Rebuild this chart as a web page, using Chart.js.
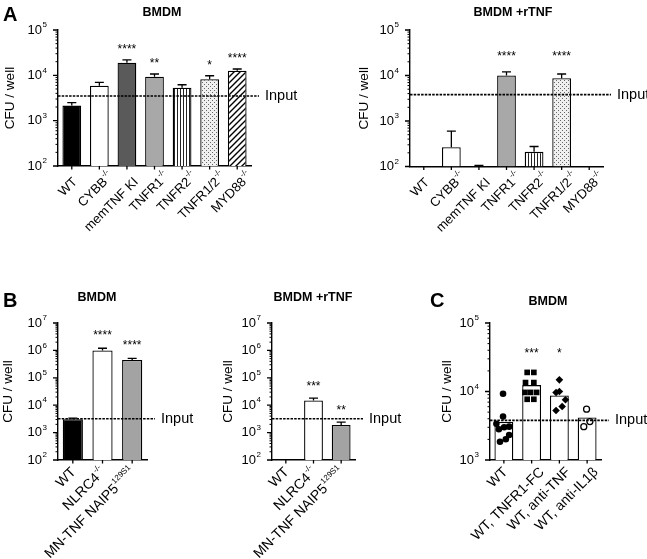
<!DOCTYPE html>
<html>
<head>
<meta charset="utf-8">
<script src="https://cdn.jsdelivr.net/npm/chart.js@4"></script>
<style>
  body { margin: 0; background: #fff; }
  #wrap { position: relative; width: 647px; height: 559px; font-family: "Liberation Sans", Arial, sans-serif; color: #000; }
  canvas { position: absolute; left: 0; top: 0; }
  .ttl { position: absolute; font-weight: bold; font-size: 12.5px; line-height: 14px; transform: translateX(-50%); white-space: nowrap; }
  .let { position: absolute; font-weight: bold; font-size: 20px; line-height: 20px; }
</style>
</head>
<body>
<div id="wrap">
  <canvas id="aLeft" width="647" height="559"></canvas>
  <canvas id="aRight" width="647" height="559"></canvas>
  <canvas id="bLeft" width="647" height="559"></canvas>
  <canvas id="bMid" width="647" height="559"></canvas>
  <canvas id="cPanel" width="647" height="559"></canvas>
  <div class="let" style="left:3px;top:4px">A</div>
  <div class="ttl" style="left:162px;top:5px">BMDM</div>
  <div class="ttl" style="left:513px;top:5px">BMDM +rTNF</div>
  <div class="let" style="left:3px;top:290px">B</div>
  <div class="ttl" style="left:97px;top:290px">BMDM</div>
  <div class="ttl" style="left:313px;top:290px">BMDM +rTNF</div>
  <div class="let" style="left:430px;top:290px">C</div>
  <div class="ttl" style="left:548px;top:294px">BMDM</div>
</div>
<script>
const W = 647, H = 559;
const FONT = '"Liberation Sans", Arial, sans-serif';

// Panel A: CFU per well
const aGroups = ['WT', 'CYBB', 'memTNF KI', 'TNFR1', 'TNFR2', 'TNFR1/2', 'MYD88'];
const aSups = ['', '-/-', '', '-/-', '-/-', '-/-', '-/-'];
const aBmdm = [2150, 5900, 19000, 9300, 5350, 8200, 12600];
const aBmdmErr = [2500, 7000, 22000, 10700, 6200, 9800, 13800];
const aBmdmStars = ['', '', '****', '**', '', '*', '****'];
const aRtnf = [null, 265, 103, 10000, 210, 8700, null];
const aRtnfErr = [null, 600, 106, 12000, 275, 10800, null];
const aRtnfStars = ['', '', '', '****', '', '****', ''];
const aInput = [3500, 3800];

// Panel B
const bGroups = ['WT', 'NLRC4', 'MN-TNF NAIP5'];
const bSups = ['', '-/-', '129S1'];
const bBmdm = [3100, 1000000, 450000];
const bBmdmErr = [3400, 1200000, 510000];
const bBmdmStars = ['', '****', '****'];
const bRtnf = [null, 15000, 1900];
const bRtnfErr = [null, 18000, 2400];
const bRtnfStars = ['', '***', '**'];
const bInput = [3200, 3200];

// Panel C: bar = mean, points = single wells
const cGroups = ['WT', 'WT, TNFR1-FC', 'WT, anti-TNF', 'WT, anti-IL1β'];
const cSups = ['', '', '', ''];
const cMeans = [3600, 12400, 8750, 4170];
const cWt = [9250, 4300, 3370, 3070, 3010, 2810, 2320, 2010, 1850];
const cTnfr1Fc = [19000, 19000, 13500, 13500, 9700, 9700, 9700, 7700, 7700];
const cAntiTnf = [14800, 10000, 9670, 7560, 6030, 5270];
const cAntiIl1b = [5520, 3640, 3070];
const cStars = ['', '***', '*', ''];
const cInput = 3800;

// horizontal scatter of the points inside each bar (category units)
const jitWt = [-0.03, -0.03, -0.27, 0.19, 0.01, -0.18, 0.19, 0.07, -0.14];
const jitFc = [-0.16, 0.08, -0.22, 0.08, -0.24, -0.04, 0.18, -0.16, 0.08];
const jitAnti = [0, 0, -0.12, 0.22, 0.1, -0.12];
const jitIl = [-0.02, 0.1, -0.12];

function makePattern(w, h, paint) {
  const c = document.createElement('canvas');
  c.width = w; c.height = h;
  const g = c.getContext('2d');
  paint(g);
  return g.createPattern(c, 'repeat');
}
const stripes = makePattern(3, 3, g => {
  g.fillStyle = '#fff'; g.fillRect(0, 0, 3, 3);
  g.fillStyle = '#222'; g.fillRect(0, 0, 1, 3);
});
const dots = makePattern(4, 4, g => {
  g.fillStyle = '#f0f0f0'; g.fillRect(0, 0, 4, 4);
  g.fillStyle = '#666'; g.fillRect(0, 0, 1, 1); g.fillRect(2, 2, 1, 1);
});
const hatch = makePattern(6, 6, g => {
  g.fillStyle = '#fff'; g.fillRect(0, 0, 6, 6);
  g.strokeStyle = '#000'; g.lineWidth = 1.4;
  g.beginPath();
  g.moveTo(-1, 7); g.lineTo(7, -1);
  g.moveTo(-1, 1); g.lineTo(1, -1);
  g.moveTo(5, 7); g.lineTo(7, 5);
  g.stroke();
});
const aFills = ['#000', '#fff', '#5a5a5a', '#a8a8a8', stripes, dots, hatch];
const bFills = ['#000', '#fff', '#a3a3a3'];

function textWidths(ctx, base, sup, size, supSize) {
  ctx.font = size + 'px ' + FONT;
  const wb = ctx.measureText(base).width;
  ctx.font = supSize + 'px ' + FONT;
  const ws = sup ? ctx.measureText(sup).width + 0.5 : 0;
  return [wb, ws];
}

// base text + raised superscript; 'right' anchors the end of the base, 'rightAll' the end of the superscript
function supText(ctx, x, y, base, sup, align, size, supSize) {
  ctx.textBaseline = 'middle';
  ctx.textAlign = 'left';
  const [wb, ws] = textWidths(ctx, base, sup, size, supSize);
  let x0 = x;
  if (align === 'right') x0 = x - wb;
  if (align === 'rightAll') x0 = x - wb - ws;
  ctx.font = size + 'px ' + FONT;
  ctx.fillText(base, x0, y);
  if (sup) {
    ctx.font = supSize + 'px ' + FONT;
    ctx.fillText(sup, x0 + wb + 0.5, y - size * 0.38);
  }
}

function decor(p) {
  return {
    id: 'decor',
    afterDatasetsDraw(chart) {
      const ctx = chart.ctx, a = chart.chartArea, x = chart.scales.x, y = chart.scales.y;
      ctx.save();
      ctx.strokeStyle = '#000';
      ctx.fillStyle = '#000';
      ctx.lineWidth = 1.3;
      // upper error bars
      (p.errs || []).forEach((e, i) => {
        if (e == null || p.values[i] == null) return;
        const cx = x.getPixelForValue(i);
        const t = y.getPixelForValue(e), b = y.getPixelForValue(p.values[i]);
        ctx.beginPath();
        ctx.moveTo(cx, b); ctx.lineTo(cx, t);
        ctx.moveTo(cx - 4.5, t); ctx.lineTo(cx + 4.5, t);
        ctx.stroke();
      });
      // input line
      const iy = y.getPixelForValue(p.input);
      ctx.setLineDash([2.5, 1.2]);
      ctx.lineWidth = 1.7;
      ctx.beginPath();
      ctx.moveTo(a.left, iy); ctx.lineTo(a.right + 8, iy);
      ctx.stroke();
      ctx.setLineDash([]);
      ctx.font = '14.5px ' + FONT;
      ctx.textAlign = 'left';
      ctx.textBaseline = 'middle';
      ctx.fillText('Input', a.right + 14, iy);
      // significance
      ctx.font = '12px ' + FONT;
      ctx.textAlign = 'center';
      ctx.textBaseline = 'alphabetic';
      p.stars.forEach((s, i) => {
        if (!s) return;
        let sy;
        if (p.starAt) sy = y.getPixelForValue(p.starAt) + 7;
        else sy = y.getPixelForValue(p.errs[i]) - p.starGap + 7;
        ctx.fillText(s, x.getPixelForValue(i), sy);
      });
      ctx.restore();
    },
    afterDraw(chart) {
      const ctx = chart.ctx, a = chart.chartArea, x = chart.scales.x, y = chart.scales.y;
      ctx.save();
      ctx.strokeStyle = '#000';
      ctx.fillStyle = '#000';
      const e0 = Math.round(Math.log10(p.min)), e1 = Math.round(Math.log10(p.max));
      ctx.lineWidth = 1.3;
      ctx.beginPath();
      for (let e = e0; e <= e1; e++) {
        const py = y.getPixelForValue(Math.pow(10, e));
        ctx.moveTo(a.left, py); ctx.lineTo(a.left - 5, py);
      }
      p.labels.forEach((l, i) => {
        const cx = x.getPixelForValue(i);
        ctx.moveTo(cx, a.bottom); ctx.lineTo(cx, a.bottom + 3.5);
      });
      ctx.stroke();
      ctx.lineWidth = 1;
      ctx.beginPath();
      for (let e = e0; e < e1; e++) {
        for (let k = 2; k < 10; k++) {
          const my = y.getPixelForValue(k * Math.pow(10, e));
          ctx.moveTo(a.left, my); ctx.lineTo(a.left - 2.5, my);
        }
      }
      ctx.stroke();
      for (let e = e0; e <= e1; e++) {
        supText(ctx, a.left - 11, y.getPixelForValue(Math.pow(10, e)), '10', String(e), 'rightAll', 13, 8);
      }
      // category labels, rotated 45 degrees
      const L = p.lab;
      p.labels.forEach((l, i) => {
        const [wb, ws] = textWidths(ctx, l, p.sups[i], L.size, 8);
        ctx.save();
        ctx.translate(x.getPixelForValue(i) + L.dx + L.k * (wb + ws), a.bottom + L.dy);
        ctx.rotate(-Math.PI / 4);
        supText(ctx, 0, 0, l, p.sups[i], L.align, L.size, 8);
        ctx.restore();
      });
      // y title
      ctx.save();
      ctx.translate(p.yTitleX, (a.top + a.bottom) / 2);
      ctx.rotate(-Math.PI / 2);
      ctx.font = '13.5px ' + FONT;
      ctx.textAlign = 'center';
      ctx.textBaseline = 'middle';
      ctx.fillText('CFU / well', 0, 0);
      ctx.restore();
      ctx.restore();
    }
  };
}

function makePanel(id, p) {
  const n = p.labels.length;
  const barData = p.linearX ? p.values.map((v, i) => ({ x: i, y: v })) : p.values;
  const datasets = (p.extra || []).concat([{
    type: 'bar',
    data: barData,
    backgroundColor: p.fills,
    borderColor: '#000',
    borderWidth: 1.3,
    barPercentage: 0.68,
    categoryPercentage: 1,
    grouped: false,
    order: 2
  }]);
  const xAxis = {
    grid: { display: false, drawTicks: false },
    ticks: { display: false },
    border: { color: '#000', width: 1.4 }
  };
  if (p.linearX) Object.assign(xAxis, { type: 'linear', min: -0.5, max: n - 0.5, offset: false });
  return new Chart(document.getElementById(id), {
    type: 'bar',
    data: { labels: p.linearX ? undefined : p.labels, datasets: datasets },
    options: {
      responsive: false,
      animation: false,
      events: [],
      layout: { padding: { left: p.area[0], top: p.area[1], right: W - p.area[2], bottom: H - p.area[3] } },
      plugins: { legend: { display: false }, tooltip: { enabled: false } },
      scales: {
        x: xAxis,
        y: {
          type: 'logarithmic', min: p.min, max: p.max,
          grid: { display: false, drawTicks: false },
          ticks: { display: false },
          border: { color: '#000', width: 1.4 }
        }
      }
    },
    plugins: [decor(p)]
  });
}

function pts(vals, jit, group) {
  return vals.map((v, j) => ({ x: group + jit[j], y: v }));
}

const labA = { size: 13, align: 'right', dx: 1, k: 0.12, dy: 14 };
const labB = { size: 14, align: 'rightAll', dx: 1, k: 0, dy: 10 };
const labC = { size: 14, align: 'right', dx: -1, k: 0.12, dy: 10 };

makePanel('aLeft', {
  area: [58, 30, 251, 166], labels: aGroups, sups: aSups, lab: labA,
  values: aBmdm, errs: aBmdmErr, stars: aBmdmStars, starGap: 14,
  fills: aFills, min: 100, max: 100000, input: aInput[0], yTitleX: 10
});
makePanel('aRight', {
  area: [410, 30, 603, 166.5], labels: aGroups, sups: aSups, lab: labA,
  values: aRtnf, errs: aRtnfErr, stars: aRtnfStars, starAt: 32000,
  fills: aFills, min: 100, max: 100000, input: aInput[1], yTitleX: 364
});
makePanel('bLeft', {
  area: [58, 323, 147, 460], labels: bGroups, sups: bSups, lab: labB,
  values: bBmdm, errs: bBmdmErr, stars: bBmdmStars, starGap: 16,
  fills: bFills, min: 100, max: 10000000, input: bInput[0], yTitleX: 8
});
makePanel('bMid', {
  area: [272, 323, 355, 460], labels: bGroups, sups: bSups, lab: labB,
  values: bRtnf, errs: bRtnfErr, stars: bRtnfStars, starGap: 15,
  fills: bFills, min: 100, max: 10000000, input: bInput[1], yTitleX: 228
});
makePanel('cPanel', {
  area: [490, 323, 601, 460], labels: cGroups, sups: cSups, lab: labC, linearX: true,
  values: cMeans, errs: null, stars: cStars, starAt: 40000,
  fills: '#fff', min: 1000, max: 100000, input: cInput, yTitleX: 447,
  extra: [
    { type: 'scatter', data: pts(cWt, jitWt, 0), pointStyle: 'circle', pointRadius: 3.3, backgroundColor: '#000', borderColor: '#000', borderWidth: 0, order: 1 },
    { type: 'scatter', data: pts(cTnfr1Fc, jitFc, 1), pointStyle: 'rect', pointRadius: 4, backgroundColor: '#000', borderColor: '#000', borderWidth: 0, order: 1 },
    { type: 'scatter', data: pts(cAntiTnf, jitAnti, 2), pointStyle: 'rectRot', pointRadius: 3.8, backgroundColor: '#000', borderColor: '#000', borderWidth: 0, order: 1 },
    { type: 'scatter', data: pts(cAntiIl1b, jitIl, 3), pointStyle: 'circle', pointRadius: 3, backgroundColor: '#fff', borderColor: '#000', borderWidth: 1.3, order: 1 }
  ]
});
</script>
</body>
</html>
